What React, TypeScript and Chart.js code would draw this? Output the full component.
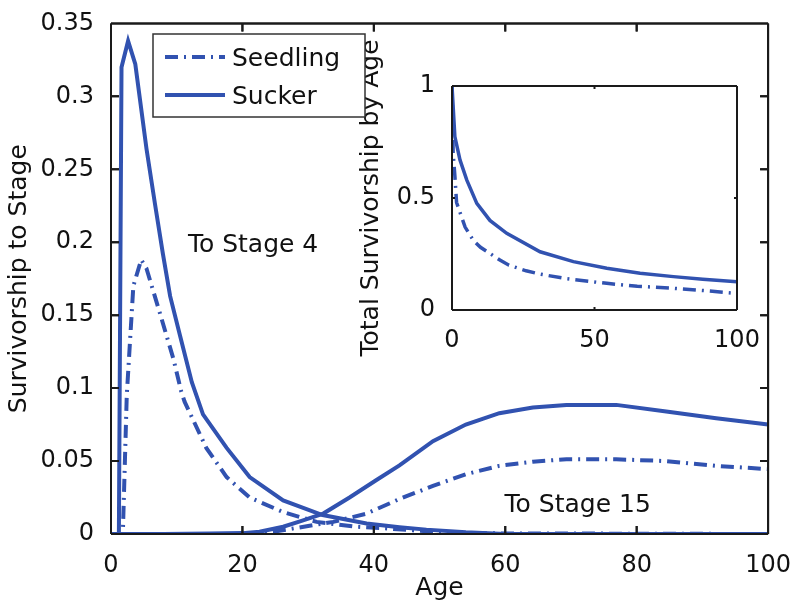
import React, { useEffect, useRef } from "react";
import { Chart, registerables } from "chart.js";
Chart.register(...registerables);

// ---- Main chart data (Survivorship to Stage) ----
const sucker4Ages = [0, 1.2, 1.6, 2.6, 3.7, 5.4, 6.7, 7.9, 9, 10.5, 12.3, 14, 17.6, 21.1, 26.2, 32.2, 38.9, 43.9, 48, 54, 60, 100];
const sucker4Vals = [0, 0, 0.32, 0.338, 0.322, 0.264, 0.226, 0.192, 0.163, 0.136, 0.104, 0.082, 0.059, 0.039, 0.023, 0.013, 0.0072, 0.0047, 0.003, 0.0012, 0, 0];

const seedling4Ages = [0, 1.8, 2.4, 3.4, 4.6, 5.4, 7.4, 9.5, 10.7, 11.2, 14.5, 17.6, 21.1, 26.2, 31.3, 37.3, 41.4, 46, 52, 100];
const seedling4Vals = [0, 0, 0.095, 0.17, 0.188, 0.182, 0.152, 0.12, 0.0975, 0.0907, 0.059, 0.039, 0.025, 0.015, 0.0083, 0.005, 0.004, 0.0025, 0.0005, 0];

const sucker15Ages = [0, 8, 15, 20, 22.6, 26.2, 29, 32.3, 36.3, 40.4, 43.9, 49, 54, 59.1, 64.2, 69.3, 76.9, 84.5, 92.1, 100];
const sucker15Vals = [0, 0, 0.0003, 0.0006, 0.0016, 0.005, 0.009, 0.014, 0.025, 0.037, 0.047, 0.0636, 0.075, 0.0828, 0.0867, 0.0885, 0.0885, 0.084, 0.0794, 0.075];

const seedling15Ages = [0, 20, 24.7, 28, 33.8, 38.9, 43.9, 49, 54, 59.1, 64.2, 69.3, 76.9, 84.5, 92.1, 100];
const seedling15Vals = [0, 0, 0.0016, 0.004, 0.0083, 0.014, 0.024, 0.033, 0.041, 0.0467, 0.0496, 0.0512, 0.0512, 0.05, 0.0467, 0.0445];

const mainXTicks = [0, 20, 40, 60, 80, 100];
const mainYTicks = [0, 0.05, 0.1, 0.15, 0.2, 0.25, 0.3, 0.35];
const mainYTickLabels = ["0", "0.05", "0.1", "0.15", "0.2", "0.25", "0.3", "0.35"];

// ---- Inset data (Total Survivorship by Age) ----
const suckerTotalAges = [0, 1, 2.8, 5.2, 8.7, 13.3, 19.2, 30.9, 42.6, 54.3, 66, 77.7, 88, 100];
const suckerTotalVals = [1, 0.774, 0.67, 0.58, 0.476, 0.4, 0.342, 0.26, 0.216, 0.186, 0.164, 0.149, 0.137, 0.126];

const seedlingTotalAges = [0, 0.4, 1, 1.6, 4.6, 7.5, 10, 16.8, 20, 26, 31, 40, 54.3, 65, 77.7, 90, 100];
const seedlingTotalVals = [1, 0.7, 0.6, 0.48, 0.37, 0.31, 0.28, 0.223, 0.2, 0.175, 0.16, 0.14, 0.119, 0.106, 0.097, 0.085, 0.074];

const insetXTicks = [0, 50, 100];
const insetYTicks = [0, 0.5, 1];
const insetYTickLabels = ["0", "0.5", "1"];

const legendLabels = ["Seedling", "Sucker"];
const stageLabels = ["To Stage 4", "To Stage 15"];

const BLUE = "#3152b0";
const AXIS = "#1a1a1a";
const FONT = '"DejaVu Sans", "Liberation Sans", sans-serif';
const SEED_DASH = [13, 6, 2, 6];

function pts(xs: number[], ys: number[]) {
  return xs.map((x, i) => ({ x, y: ys[i] }));
}

function drawFrame(ctx: any, scales: any, xt: number[], yt: number[], len: number) {
  const sx = scales.x;
  const sy = scales.y;
  const L = sx.getPixelForValue(xt[0]);
  const R = sx.getPixelForValue(xt[xt.length - 1]);
  const B = sy.getPixelForValue(yt[0]);
  const T = sy.getPixelForValue(yt[yt.length - 1]);
  ctx.save();
  ctx.setLineDash([]);
  ctx.globalAlpha = 1;
  ctx.globalCompositeOperation = "source-over";
  ctx.strokeStyle = AXIS;
  ctx.lineWidth = 2;
  ctx.beginPath();
  ctx.moveTo(L, T);
  ctx.lineTo(R, T);
  ctx.moveTo(R, T);
  ctx.lineTo(R, B);
  ctx.moveTo(R, B);
  ctx.lineTo(L, B);
  ctx.moveTo(L, B);
  ctx.lineTo(L, T);
  xt.forEach((v) => {
    const px = sx.getPixelForValue(v);
    ctx.moveTo(px, B);
    ctx.lineTo(px, B - len);
    ctx.moveTo(px, T);
    ctx.lineTo(px, T + len);
  });
  yt.forEach((v) => {
    const py = sy.getPixelForValue(v);
    ctx.moveTo(L, py);
    ctx.lineTo(L + len, py);
    ctx.moveTo(R, py);
    ctx.lineTo(R - len, py);
  });
  ctx.stroke();
  ctx.restore();
}

export default function App() {
  const mainRef = useRef<HTMLCanvasElement>(null);
  const insetRef = useRef<HTMLCanvasElement>(null);

  useEffect(() => {
    const tickFont = { family: FONT, size: 24 };
    const titleFont = { family: FONT, size: 25 };

    const line = (data: any, dashed: boolean, width: number) => ({
      data,
      borderColor: BLUE,
      backgroundColor: BLUE,
      borderWidth: width,
      borderDash: dashed ? SEED_DASH : [],
      pointRadius: 0,
      tension: 0,
      fill: false,
    });

    let mainChart: any = null;

    const mainDecor = {
      id: "mainDecor",
      afterDraw(chart: any) {
        const { ctx, scales } = chart;
        drawFrame(ctx, scales, mainXTicks, mainYTicks, 8);
        ctx.save();
        ctx.setLineDash([]);
        ctx.font = `25px ${FONT}`;
        ctx.fillStyle = "#111";
        ctx.textBaseline = "middle";
        ctx.textAlign = "left";
        ctx.fillText(stageLabels[0], scales.x.getPixelForValue(11.7), scales.y.getPixelForValue(0.198));
        ctx.fillText(stageLabels[1], scales.x.getPixelForValue(59.9), scales.y.getPixelForValue(0.0196));
        ctx.restore();
      },
    };

    const overlayDecor = {
      id: "overlayDecor",
      afterDraw(chart: any) {
        const ctx = chart.ctx;
        drawFrame(ctx, chart.scales, insetXTicks, insetYTicks, 3);
        if (mainChart && mainChart.scales && mainChart.scales.x) {
          drawFrame(ctx, mainChart.scales, mainXTicks, mainYTicks, 8);
        }
        // legend
        ctx.save();
        ctx.setLineDash([]);
        ctx.fillStyle = "#fff";
        ctx.fillRect(153, 34, 212, 83);
        ctx.strokeStyle = "#333";
        ctx.lineWidth = 1.5;
        ctx.strokeRect(153, 34, 212, 83);
        ctx.strokeStyle = BLUE;
        ctx.lineWidth = 4;
        ctx.setLineDash(SEED_DASH);
        ctx.beginPath();
        ctx.moveTo(165, 57);
        ctx.lineTo(225, 57);
        ctx.stroke();
        ctx.setLineDash([]);
        ctx.beginPath();
        ctx.moveTo(165, 95);
        ctx.lineTo(225, 95);
        ctx.stroke();
        ctx.font = `25px ${FONT}`;
        ctx.fillStyle = "#111";
        ctx.textBaseline = "middle";
        ctx.textAlign = "left";
        ctx.fillText(legendLabels[0], 232, 59);
        ctx.fillText(legendLabels[1], 232, 97);
        ctx.restore();
      },
    };

    mainChart = new Chart(mainRef.current!, {
      type: "line",
      data: {
        datasets: [
          line(pts(seedling4Ages, seedling4Vals), true, 4),
          line(pts(sucker4Ages, sucker4Vals), false, 4),
          line(pts(seedling15Ages, seedling15Vals), true, 4),
          line(pts(sucker15Ages, sucker15Vals), false, 4),
        ],
      },
      options: {
        responsive: false,
        animation: false,
        layout: { padding: { left: 0, top: 17, right: 31, bottom: 0 } },
        plugins: { legend: { display: false }, tooltip: { enabled: false } },
        scales: {
          x: {
            type: "linear",
            min: 0,
            max: 100,
            grid: { display: false },
            border: { display: false },
            afterBuildTicks: (s: any) => {
              s.ticks = mainXTicks.map((v) => ({ value: v }));
            },
            afterFit: (s: any) => {
              s.height = 78;
            },
            ticks: { font: tickFont, color: "#111", padding: 9, maxRotation: 0, callback: (v: any) => String(v) },
            title: { display: true, text: "Age", font: titleFont, color: "#111", padding: { top: 0, bottom: 9 } },
          },
          y: {
            type: "linear",
            min: 0,
            max: 0.35,
            grid: { display: false },
            border: { display: false },
            afterBuildTicks: (s: any) => {
              s.ticks = mainYTicks.map((v) => ({ value: v }));
            },
            afterFit: (s: any) => {
              s.width = 111;
            },
            ticks: {
              font: tickFont,
              color: "#111",
              padding: 9,
              callback: (v: any) => {
                const i = mainYTicks.findIndex((t) => Math.abs(t - v) < 1e-9);
                return i >= 0 ? mainYTickLabels[i] : "";
              },
            },
            title: { display: true, text: "Survivorship to Stage", font: titleFont, color: "#111", padding: { top: 4, bottom: 0 } },
          },
        },
      },
      plugins: [mainDecor],
    } as any);

    const inset = new Chart(insetRef.current!, {
      type: "line",
      data: {
        datasets: [
          line(pts(seedlingTotalAges, seedlingTotalVals), true, 3.5),
          line(pts(suckerTotalAges, suckerTotalVals), false, 3.5),
        ],
      },
      options: {
        responsive: false,
        animation: false,
        layout: { padding: { left: 340, top: 86, right: 63, bottom: 0 } },
        plugins: { legend: { display: false }, tooltip: { enabled: false } },
        scales: {
          x: {
            type: "linear",
            min: 0,
            max: 100,
            grid: { display: false },
            border: { display: false },
            afterBuildTicks: (s: any) => {
              s.ticks = insetXTicks.map((v) => ({ value: v }));
            },
            afterFit: (s: any) => {
              s.height = 302;
            },
            ticks: { font: tickFont, color: "#111", padding: 8, maxRotation: 0, callback: (v: any) => String(v) },
          },
          y: {
            type: "linear",
            min: 0,
            max: 1,
            grid: { display: false },
            border: { display: false },
            afterBuildTicks: (s: any) => {
              s.ticks = insetYTicks.map((v) => ({ value: v }));
            },
            afterFit: (s: any) => {
              s.width = 112;
            },
            ticks: {
              font: tickFont,
              color: "#111",
              padding: 9,
              callback: (v: any) => {
                const i = insetYTicks.findIndex((t) => Math.abs(t - v) < 1e-9);
                return i >= 0 ? insetYTickLabels[i] : "";
              },
            },
            title: { display: true, text: "Total Survivorship by Age", font: titleFont, color: "#111", padding: { top: 16, bottom: 0 } },
          },
        },
      },
      plugins: [overlayDecor],
    } as any);

    return () => {
      mainChart.destroy();
      inset.destroy();
      mainChart = null;
    };
  }, []);

  return (
    <div style={{ position: "fixed", left: 0, top: 0, width: 800, height: 612, background: "#fff" }}>
      <canvas ref={mainRef} width={800} height={612} style={{ position: "absolute", left: 0, top: 0 }} />
      <canvas ref={insetRef} width={800} height={612} style={{ position: "absolute", left: 0, top: 0 }} />
    </div>
  );
}
